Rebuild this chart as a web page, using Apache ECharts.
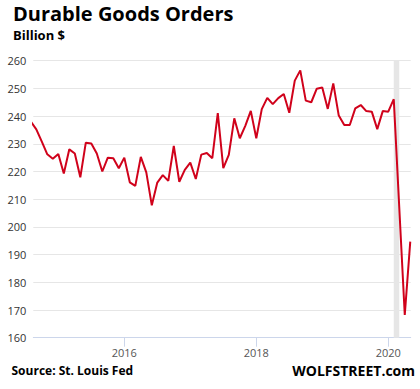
<!DOCTYPE html>
<html>
<head>
<meta charset="utf-8">
<script src="https://cdn.jsdelivr.net/npm/echarts@6/dist/echarts.min.js"></script>
<style>
html,body{margin:0;padding:0;background:#fff;}
#chart{width:420px;height:389px;}
</style>
</head>
<body>
<div id="chart"></div>
<script>
const dates = [
  '2014-08','2014-09','2014-10','2014-11','2014-12',
  '2015-01','2015-02','2015-03','2015-04','2015-05','2015-06','2015-07','2015-08','2015-09','2015-10','2015-11','2015-12',
  '2016-01','2016-02','2016-03','2016-04','2016-05','2016-06','2016-07','2016-08','2016-09','2016-10','2016-11','2016-12',
  '2017-01','2017-02','2017-03','2017-04','2017-05','2017-06','2017-07','2017-08','2017-09','2017-10','2017-11','2017-12',
  '2018-01','2018-02','2018-03','2018-04','2018-05','2018-06','2018-07','2018-08','2018-09','2018-10','2018-11','2018-12',
  '2019-01','2019-02','2019-03','2019-04','2019-05','2019-06','2019-07','2019-08','2019-09','2019-10','2019-11','2019-12',
  '2020-01','2020-02','2020-03','2020-04','2020-05'
];
const orders = [
  238.0, 235.2, 230.8, 226.2, 224.6,
  226.3, 219.3, 228.0, 226.5, 217.9, 230.4, 230.1, 226.5, 220.0, 225.0, 224.8, 221.2,
  225.0, 216.1, 214.8, 225.3, 219.7, 207.8, 216.0, 218.7, 216.6, 229.2, 216.3, 220.6,
  223.2, 217.3, 226.1, 226.7, 224.8, 241.1, 221.2, 226.0, 239.2, 232.0, 236.5, 241.9,
  232.0, 242.5, 246.6, 244.3, 246.5, 248.0, 241.2, 252.8, 256.5, 245.6, 245.0, 249.9,
  250.3, 242.6, 251.8, 240.2, 236.8, 236.8, 242.8, 244.0, 241.8, 241.6, 235.3, 241.8,
  241.6, 246.1, 207.0, 168.2, 194.7
];
const xTickYears = [2016, 2018, 2020];
const recession = ['2020-02', '2020-03'];

const toYear = s => Number(s.slice(0, 4)) + (Number(s.slice(5, 7)) - 1) / 12;
const seriesData = dates.map((d, i) => [toYear(d), orders[i]]);

const chart = echarts.init(document.getElementById('chart'), null, {renderer: 'svg'});
chart.setOption({
  animation: false,
  backgroundColor: '#ffffff',
  grid: {left: 33.3, right: 9.3, top: 60.7, bottom: 51.3, containLabel: false},
  xAxis: {
    type: 'value',
    min: 2014.621,
    max: 2020.34,
    axisLine: {show: true, lineStyle: {color: '#ccd6eb', width: 1}},
    axisTick: {show: true, customValues: xTickYears, length: 9, lineStyle: {color: '#ccd6eb'}},
    axisLabel: {
      customValues: xTickYears, color: '#555555', fontSize: 11,
      fontFamily: 'Open Sans', margin: 9,
      formatter: v => String(Math.round(v))
    },
    splitLine: {show: false}
  },
  yAxis: {
    type: 'value',
    min: 160, max: 260, interval: 10,
    axisLine: {show: false},
    axisTick: {show: false},
    axisLabel: {color: '#333333', fontSize: 11, fontFamily: 'Open Sans', margin: 7},
    splitLine: {lineStyle: {color: '#e6e6e6', width: 1}}
  },
  series: [{
    type: 'line',
    data: seriesData,
    showSymbol: false,
    clip: true,
    z: 3,
    lineStyle: {color: '#d0021b', width: 2},
    markArea: {
      silent: true,
      itemStyle: {color: '#e6e6e6'},
      data: [[{xAxis: toYear(recession[0])}, {xAxis: toYear(recession[1])}]]
    }
  }],
  graphic: [
    {type: 'text', left: 13, top: 3, style: {text: 'Durable Goods Orders', font: 'bold 20px "Open Sans"', fill: '#000'}},
    {type: 'text', left: 13, top: 28, style: {text: 'Billion $', font: 'bold 13px "Open Sans"', fill: '#000'}},
    {type: 'text', left: 11.5, top: 364, style: {text: 'Source: St. Louis Fed', font: 'bold 12px "Open Sans"', fill: '#000'}},
    {type: 'text', right: 5, top: 363, style: {text: 'WOLFSTREET.com', font: 'bold 14px "Open Sans"', fill: '#000'}}
  ]
});
</script>
</body>
</html>
